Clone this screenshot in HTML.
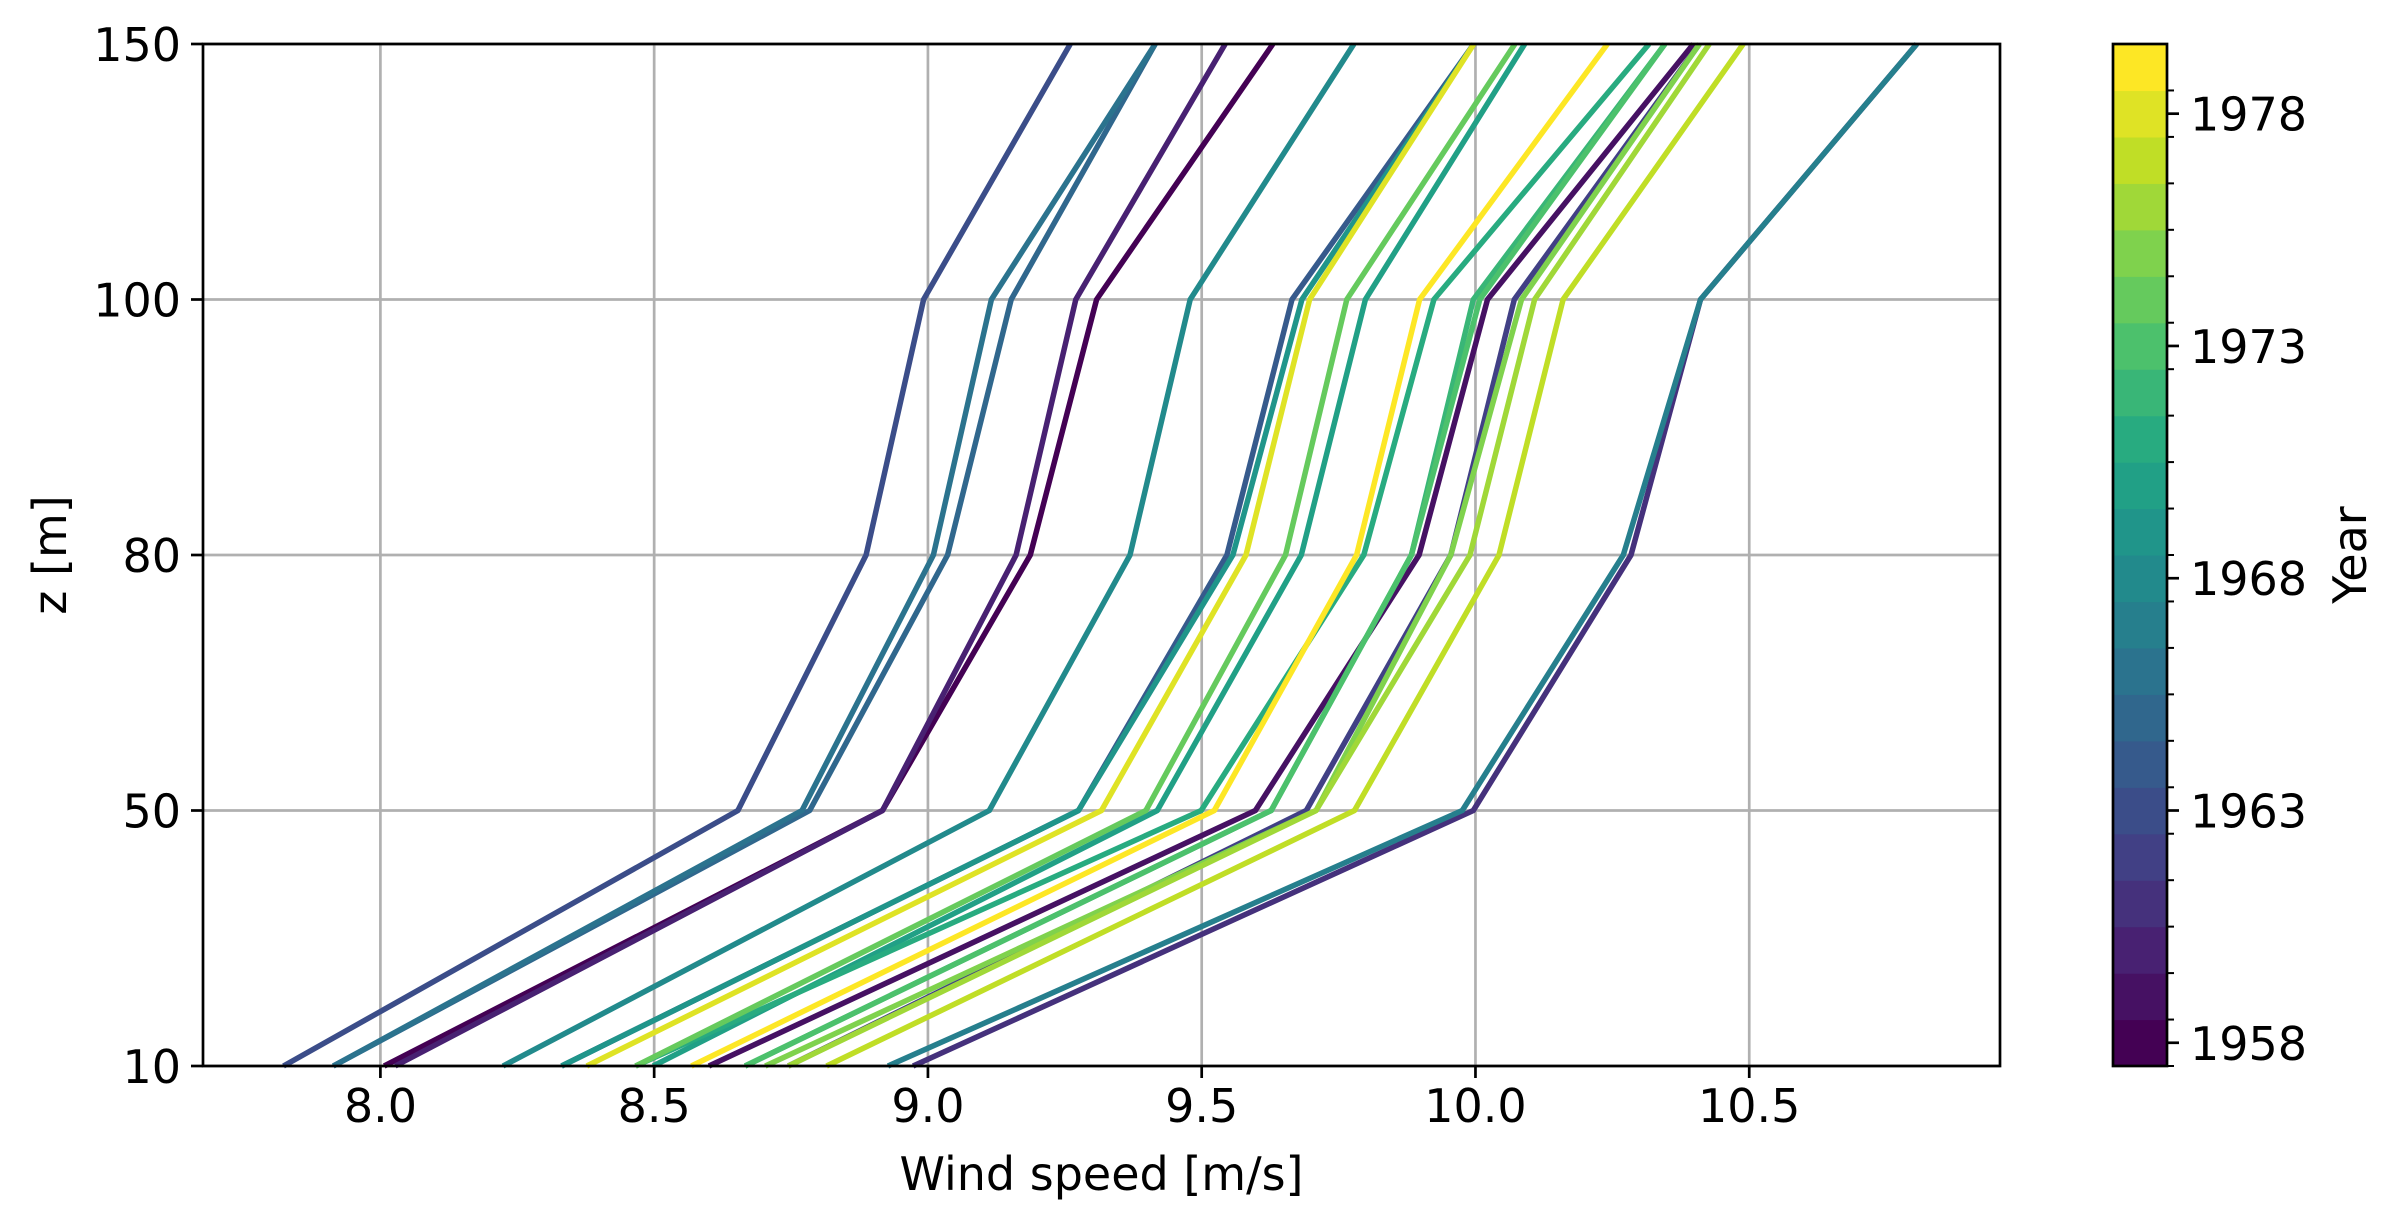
<!DOCTYPE html>
<html><head><meta charset="utf-8">
<style>
html,body{margin:0;padding:0;background:#fff;}
svg{display:block;font-family:"DejaVu Sans","Liberation Sans",sans-serif;}
</style></head>
<body>
<svg id="chart" width="2397" height="1223" viewBox="0 0 2397 1223" xmlns="http://www.w3.org/2000/svg">
<rect x="0" y="0" width="2397" height="1223" fill="#fff"/>
<g id="grid"></g>
<g id="lines"></g>
<g id="axes"></g>
<g id="cbar"></g>
</svg>
<script>
// ---- data ----
const heights = [10, 50, 80, 100, 150];
const xTicks = [8.0, 8.5, 9.0, 9.5, 10.0, 10.5];
const xTickLabels = ["8.0", "8.5", "9.0", "9.5", "10.0", "10.5"];
const yTickLabels = ["10", "50", "80", "100", "150"];
const years = [1958,1959,1960,1961,1962,1963,1964,1965,1966,1967,1968,1969,1970,1971,1972,1973,1974,1975,1976,1977,1978,1979];
const cbarTicks = [1958, 1963, 1968, 1973, 1978];
const s1958 = [8.007, 8.917, 9.187, 9.308, 9.630];
const s1959 = [8.600, 9.598, 9.897, 10.022, 10.398];
const s1960 = [8.027, 8.917, 9.161, 9.270, 9.543];
const s1961 = [8.973, 9.996, 10.284, 10.411, 10.806];
const s1962 = [8.745, 9.691, 9.955, 10.071, 10.409];
const s1963 = [7.823, 8.653, 8.887, 8.992, 9.260];
const s1964 = [8.331, 9.275, 9.546, 9.665, 9.997];
const s1965 = [7.914, 8.784, 9.036, 9.152, 9.415];
const s1966 = [7.914, 8.770, 9.010, 9.116, 9.415];
const s1967 = [8.927, 9.976, 10.270, 10.411, 10.806];
const s1968 = [8.224, 9.112, 9.369, 9.479, 9.778];
const s1969 = [8.331, 9.275, 9.557, 9.683, 9.997];
const s1970 = [8.498, 9.419, 9.682, 9.799, 10.090];
const s1971 = [8.466, 9.499, 9.796, 9.924, 10.317];
const s1972 = [8.666, 9.627, 9.883, 9.996, 10.346];
const s1973 = [8.666, 9.627, 9.883, 10.008, 10.346];
const s1974 = [8.466, 9.398, 9.653, 9.765, 10.072];
const s1975 = [8.703, 9.709, 9.955, 10.084, 10.409];
const s1976 = [8.745, 9.709, 9.990, 10.108, 10.427];
const s1977 = [8.815, 9.779, 10.043, 10.160, 10.489];
const s1978 = [8.377, 9.317, 9.581, 9.697, 9.997];
const s1979 = [8.568, 9.523, 9.783, 9.898, 10.241];
const series = [s1958,s1959,s1960,s1961,s1962,s1963,s1964,s1965,s1966,s1967,s1968,s1969,s1970,s1971,s1972,s1973,s1974,s1975,s1976,s1977,s1978,s1979];

// ---- layout ----
const NS = "http://www.w3.org/2000/svg";
const L = 203, R = 2000, T = 44, B = 1066;
const xMin = 7.676, xMax = 10.958;
const xs = v => L + (v - xMin) / (xMax - xMin) * (R - L);
const ys = i => B - i / (heights.length - 1) * (B - T);
const CB = {l: 2113, r: 2167, t: 44, b: 1066};
const yMinC = years[0] - 0.5, yMaxC = years[years.length - 1] + 0.5;
const cy = v => CB.b - (v - yMinC) / (yMaxC - yMinC) * (CB.b - CB.t);

const VIR = [[68,1,84],[72,35,116],[64,67,135],[52,94,141],[41,120,142],[32,144,140],[34,167,132],[68,190,112],[121,209,81],[189,222,38],[253,231,37]];
function viridis(t){
  const p = t * (VIR.length - 1), i = Math.min(Math.floor(p), VIR.length - 2), f = p - i;
  const c = VIR[i].map((a, k) => Math.round(a + (VIR[i+1][k] - a) * f));
  return `rgb(${c[0]},${c[1]},${c[2]})`;
}
function el(tag, attrs, parent){
  const e = document.createElementNS(NS, tag);
  for (const k in attrs) e.setAttribute(k, attrs[k]);
  parent.appendChild(e);
  return e;
}
const grid = document.getElementById('grid');
const lines = document.getElementById('lines');
const axes = document.getElementById('axes');
const cbar = document.getElementById('cbar');

// grid
xTicks.forEach((v, i) => {
  const g = el('line', {x1: xs(v), x2: xs(v), y1: T, y2: B, stroke: '#b0b0b0', 'stroke-width': 2.7}, grid);
  
  
});
heights.forEach((h, i) => {
  const g = el('line', {x1: L, x2: R, y1: ys(i), y2: ys(i), stroke: '#b0b0b0', 'stroke-width': 2.7}, grid);
  
  
});

// lines
series.forEach((s, j) => {
  const pts = s.map((v, i) => xs(v).toFixed(1) + ',' + ys(i).toFixed(1)).join(' ');
  const p = el('polyline', {points: pts, fill: 'none', stroke: viridis(j / (years.length - 1)), 'stroke-width': 5.5, 'stroke-linejoin': 'round'}, lines);
  
  
});

// axes frame
const fr = el('rect', {x: L, y: T, width: R - L, height: B - T, fill: 'none', stroke: '#000', 'stroke-width': 2.7}, axes);


xTicks.forEach((v, i) => {
  el('line', {x1: xs(v), x2: xs(v), y1: B, y2: B + 12, stroke: '#000', 'stroke-width': 2.7}, axes);
  const t = el('text', {x: xs(v), y: B + 56, 'font-size': 46, 'text-anchor': 'middle', fill: '#000'}, axes);
  t.textContent = xTickLabels[i];
  
  
});
heights.forEach((h, i) => {
  el('line', {x1: L - 12, x2: L, y1: ys(i), y2: ys(i), stroke: '#000', 'stroke-width': 2.7}, axes);
  const t = el('text', {x: L - 22, y: ys(i) + 17, 'font-size': 46, 'text-anchor': 'end', fill: '#000'}, axes);
  t.textContent = yTickLabels[i];
  
  
});
const xl = el('text', {x: (L + R) / 2, y: 1190, 'font-size': 46, 'text-anchor': 'middle', fill: '#000'}, axes);
xl.textContent = 'Wind speed [m/s]';


const yl = el('text', {x: 0, y: 0, 'font-size': 46, 'text-anchor': 'middle', fill: '#000', transform: `translate(66,${(T + B) / 2}) rotate(-90)`}, axes);
yl.textContent = 'z [m]';



// colorbar
years.forEach((yr, j) => {
  const r = el('rect', {x: CB.l, y: cy(yr + 0.5), width: CB.r - CB.l, height: cy(yr - 0.5) - cy(yr + 0.5) + 0.6, fill: viridis(j / (years.length - 1))}, cbar);
  
  
  el('line', {x1: CB.r, x2: CB.r + 7, y1: cy(yr - 0.5), y2: cy(yr - 0.5), stroke: '#000', 'stroke-width': 2}, cbar);
});
const cf = el('rect', {x: CB.l, y: CB.t, width: CB.r - CB.l, height: CB.b - CB.t, fill: 'none', stroke: '#000', 'stroke-width': 2.7}, cbar);


cbarTicks.forEach(v => {
  el('line', {x1: CB.r, x2: CB.r + 12, y1: cy(v), y2: cy(v), stroke: '#000', 'stroke-width': 2.7}, cbar);
  const t = el('text', {x: CB.r + 23, y: cy(v) + 17, 'font-size': 46, fill: '#000'}, cbar);
  t.textContent = String(v);
  
  
});
const cl = el('text', {x: 0, y: 0, 'font-size': 46, 'text-anchor': 'middle', fill: '#000', transform: `translate(2366,${(CB.t + CB.b) / 2}) rotate(-90)`}, cbar);
cl.textContent = 'Year';


</script>
</body></html>
